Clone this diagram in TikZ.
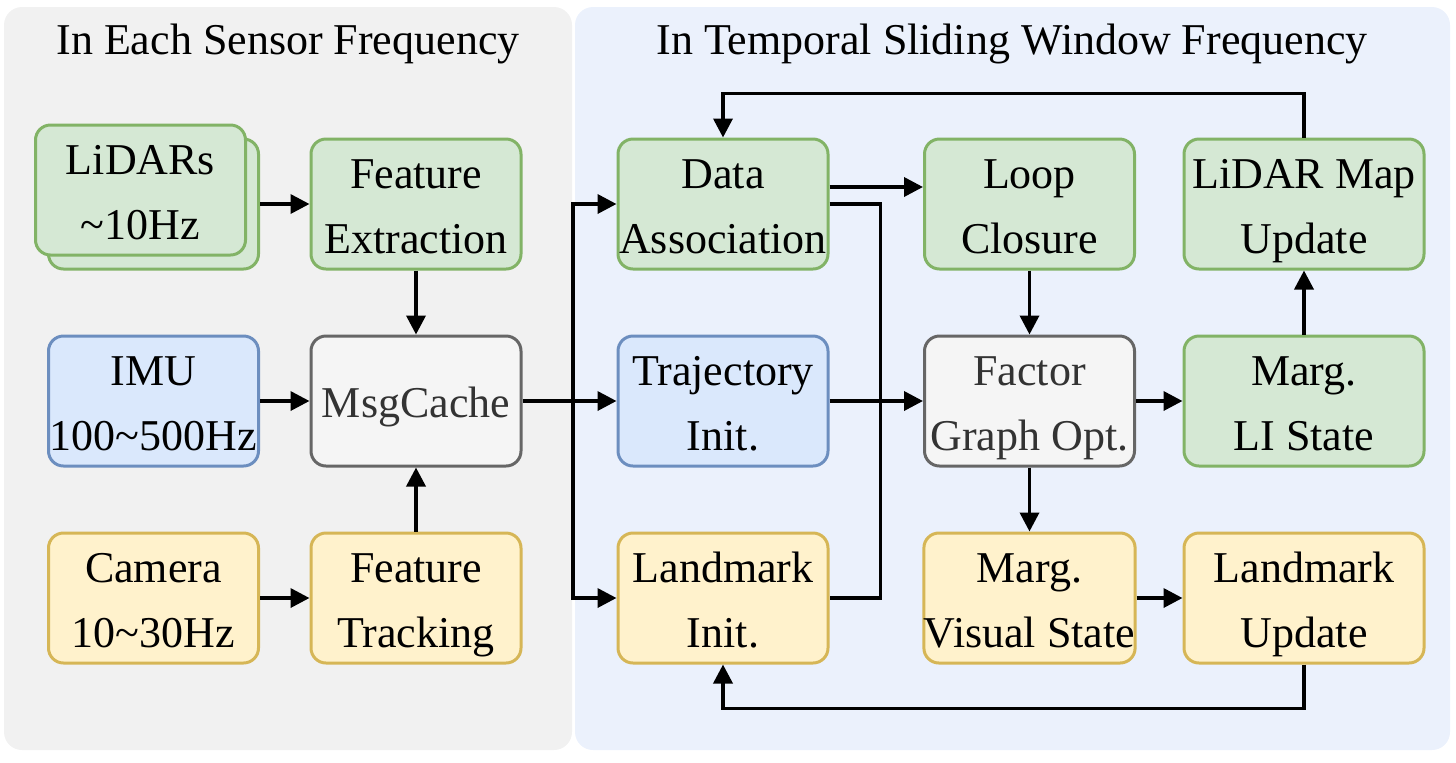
\documentclass[tikz,border=0pt]{standalone}
\usepackage{fontspec}
\setmainfont{Liberation Serif}
\usetikzlibrary{arrows.meta}
\definecolor{gfill}{HTML}{D5E8D4}\definecolor{gline}{HTML}{82B366}
\definecolor{bfill}{HTML}{DAE8FC}\definecolor{bline}{HTML}{6C8EBF}
\definecolor{yfill}{HTML}{FFF2CC}\definecolor{yline}{HTML}{D6B656}
\definecolor{kfill}{HTML}{F5F5F5}\definecolor{kline}{HTML}{666666}
\definecolor{ktext}{HTML}{333333}
\definecolor{lpanel}{HTML}{F1F1F1}\definecolor{rpanel}{HTML}{EBF1FC}
\newcommand{\ms}{\rule[-5.5pt]{0pt}{27.5pt}}
\tikzset{
  box/.style={draw, line width=1.5pt, rounded corners=7.5pt, minimum width=105pt, minimum height=65pt,
    inner sep=0pt, align=center, font=\fontsize{22}{32.5}\selectfont},
  gbox/.style={box, fill=gfill, draw=gline},
  bbox/.style={box, fill=bfill, draw=bline},
  ybox/.style={box, fill=yfill, draw=yline},
  kbox/.style={box, fill=kfill, draw=kline, text=ktext},
  wide/.style={minimum width=120pt},
  arr/.style={line width=1.8pt, -{Triangle[length=9.5pt,width=9.5pt]}},
  ln/.style={line width=1.8pt},
  panel/.style={rounded corners=9pt},
  ttl/.style={anchor=base, font=\fontsize{22}{26}\selectfont, inner sep=0pt}
}
\begin{document}
\begin{tikzpicture}[x=0.5pt, y=-0.5pt]
\useasboundingbox (0,0) rectangle (1456,762);
\fill[panel, lpanel] (4,7) rectangle (572,750);
\fill[panel, rpanel] (575,7) rectangle (1450,750);
\node[ttl] (t1) at (288,54) {In Each Sensor Frequency};
\node[ttl] (t2) at (1012,54) {In Temporal Sliding Window Frequency};

% left column
\node[gbox] (lidb) at (153.5,204) {};
\node[gbox] (lid) at (140.5,190) {\ms LiDARs\\\ms\textasciitilde10Hz};
\node[bbox] (imu) at (153.5,401) {\ms IMU\\\ms 100\textasciitilde500Hz};
\node[ybox] (cam) at (153.5,598) {\ms Camera\\\ms 10\textasciitilde30Hz};
\node[gbox] (fe) at (416,204) {\ms Feature\\\ms Extraction};
\node[kbox] (msg) at (416,401) {\ms MsgCache};
\node[ybox] (ft) at (416,598) {\ms Feature\\\ms Tracking};

% right panel
\node[gbox] (da) at (723,204) {\ms Data\\\ms Association};
\node[bbox] (ti) at (723,401) {\ms Trajectory\\\ms Init.};
\node[ybox] (li) at (723,598) {\ms Landmark\\\ms Init.};
\node[gbox] (lc) at (1029.5,204) {\ms Loop\\\ms Closure};
\node[kbox] (fg) at (1029.5,401) {\ms Factor\\\ms Graph Opt.};
\node[ybox] (mv) at (1029.5,598) {\ms Marg.\\\ms Visual State};
\node[gbox, wide] (lm) at (1304,204) {\ms LiDAR Map\\\ms Update};
\node[gbox, wide] (ml) at (1304,401) {\ms Marg.\\\ms LI State};
\node[ybox, wide] (lu) at (1304,598) {\ms Landmark\\\ms Update};

\coordinate (split) at (573,401);

% connectors
\draw[arr] (lidb.east) -- (fe.west);
\draw[arr] (fe.south) -- (msg.north);
\draw[arr] (imu.east) -- (msg.west);
\draw[arr] (ft.north) -- (msg.south);
\draw[arr] (cam.east) -- (ft.west);
\draw[arr] (msg.east) -- (ti.west);
\draw[arr] (split) |- (da.west);
\draw[arr] (split) |- (li.west);
\draw[arr] ([yshift=8.5pt]da.east) -- ([yshift=8.5pt]lc.west);
\draw[ln] (da.east) -- ++(51,0) |- (li.east);
\draw[arr] (ti.east) -- (fg.west);
\draw[arr] (lc.south) -- (fg.north);
\draw[arr] (fg.south) -- (mv.north);
\draw[arr] (fg.east) -- (ml.west);
\draw[arr] (ml.north) -- (lm.south);
\draw[arr] (mv.east) -- (lu.west);
\draw[arr] (lm.north) -- ++(0,-44) -| (da.north);
\draw[arr] (lu.south) -- ++(0,44) -| (li.south);
\end{tikzpicture}
\end{document}
